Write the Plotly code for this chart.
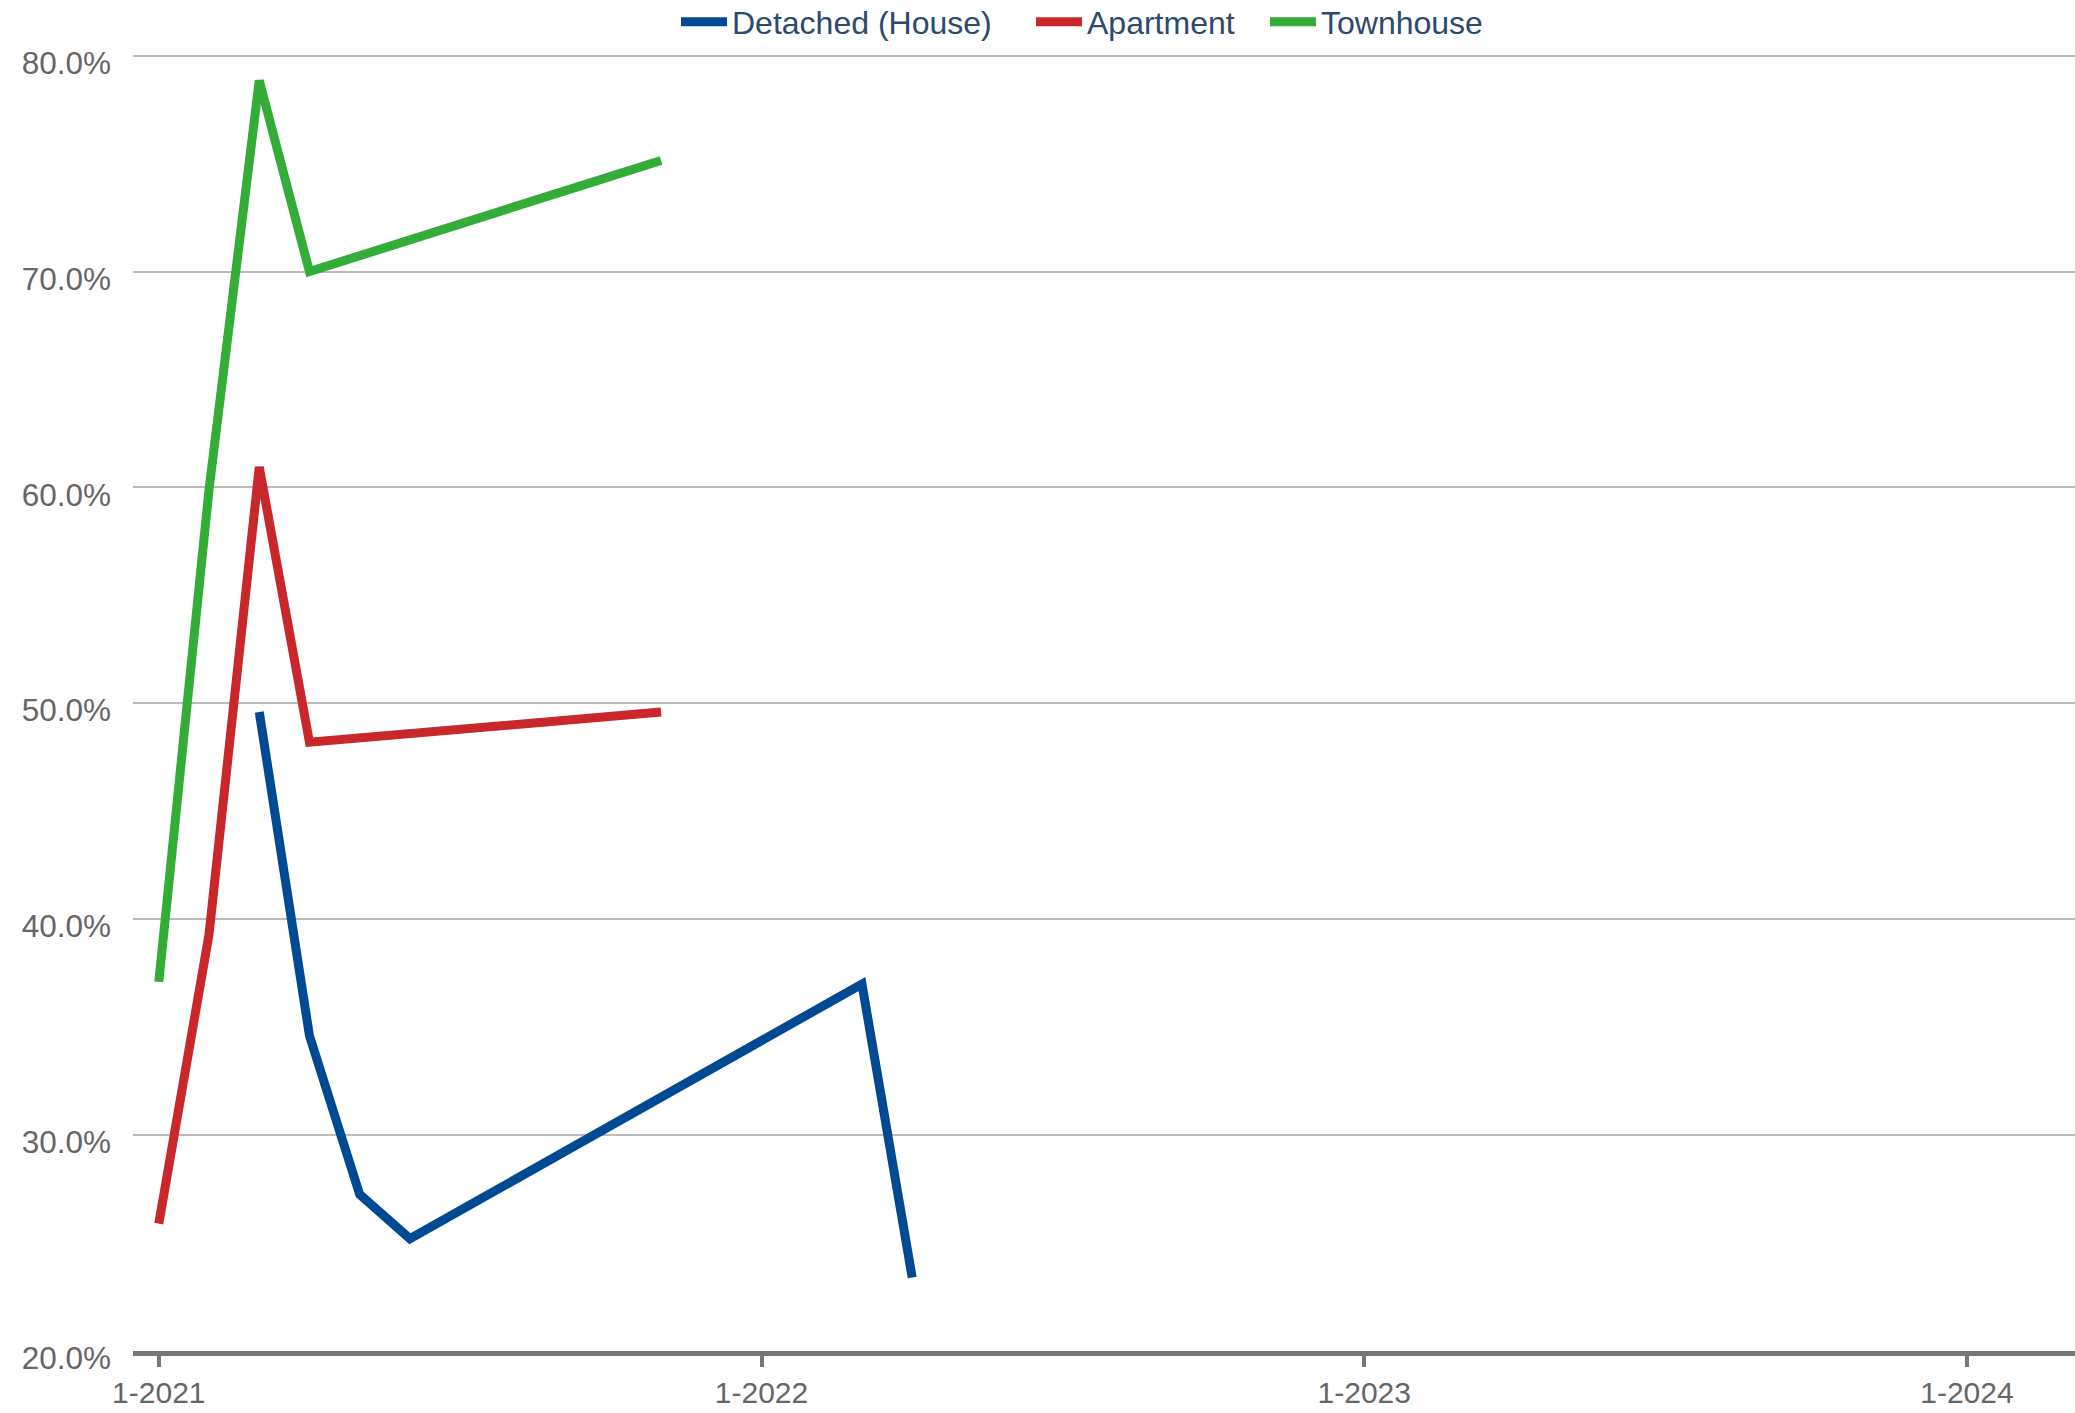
import plotly.graph_objects as go

# ---- data ----
townhouse_months = ["2021-01", "2021-02", "2021-03", "2021-04", "2021-11"]
townhouse_vals = [37.1, 59.9, 78.85, 70.0, 75.15]

apartment_months = ["2021-01", "2021-02", "2021-03", "2021-04", "2021-11"]
apartment_vals = [25.9, 39.3, 60.95, 48.2, 49.6]

detached_months = ["2021-03", "2021-04", "2021-05", "2021-06", "2022-03", "2022-04"]
detached_vals = [49.6, 34.6, 27.25, 25.2, 37.0, 23.4]

series_names = ["Detached (House)", "Apartment", "Townhouse"]
series_colors = ["#004a94", "#c9282b", "#33ad37"]

tick_years = [2021, 2022, 2023, 2024]
tick_text = ["1-2021", "1-2022", "1-2023", "1-2024"]

y_ticks = [20, 30, 40, 50, 60, 70, 80]
y_tick_text = ["20.0%", "30.0%", "40.0%", "50.0%", "60.0%", "70.0%", "80.0%"]


def month_pos(m):
    # months are evenly spaced along the time axis (12 per year)
    y, mo = m.split("-")
    return int(y) + (int(mo) - 1) / 12.0


W, H = 2075, 1413
FONT = "Liberation Sans, Arial, sans-serif"

fig = go.Figure()
series = [
    (detached_months, detached_vals, "legend"),
    (apartment_months, apartment_vals, "legend2"),
    (townhouse_months, townhouse_vals, "legend3"),
]
for (ms, ys, lg), name, col in zip(series, series_names, series_colors):
    fig.add_trace(go.Scatter(
        x=[month_pos(m) for m in ms], y=ys, name=name, mode="lines", legend=lg,
        line=dict(color=col, width=9),
        customdata=ms, hovertemplate="%{customdata}: %{y:.1f}%<extra>" + name + "</extra>",
    ))

leg_common = dict(
    orientation="h", xref="container", yref="container",
    xanchor="left", yanchor="middle", y=1 - 22 / H,
    font=dict(family=FONT, size=32, color="#2b4a6d"),
    bgcolor="rgba(0,0,0,0)", borderwidth=0, itemwidth=46,
)
fig.update_layout(
    width=W, height=H,
    margin=dict(l=133, r=0, t=54.3, b=62, autoexpand=False),
    paper_bgcolor="white", plot_bgcolor="white",
    showlegend=True,
    legend=dict(leg_common, x=676 / W),
    legend2=dict(leg_common, x=1031 / W),
    legend3=dict(leg_common, x=1265 / W),
    xaxis=dict(
        type="linear",
        range=[2020.9572, 2024.1793],
        tickvals=tick_years, ticktext=tick_text,
        showgrid=False, zeroline=False,
        showline=True, linecolor="#777777", linewidth=5,
        ticks="outside", ticklen=11, tickwidth=4, tickcolor="#777777",
        tickfont=dict(family=FONT, size=30, color="#666666"),
    ),
    yaxis=dict(
        range=[20, 80.08],
        tickvals=y_ticks, ticktext=y_tick_text,
        showgrid=True, gridcolor="#bbbbbb", gridwidth=2,
        zeroline=False, showline=False, ticks="",
        tickfont=dict(family=FONT, size=31.5, color="#666666"),
        ticklabelshift=7, ticklabelstandoff=21,
    ),
)

fig.write_html(
    "out.html",
    config={"displayModeBar": False},
    post_script="document.body.style.margin='0';document.body.style.overflow='hidden';",
)
